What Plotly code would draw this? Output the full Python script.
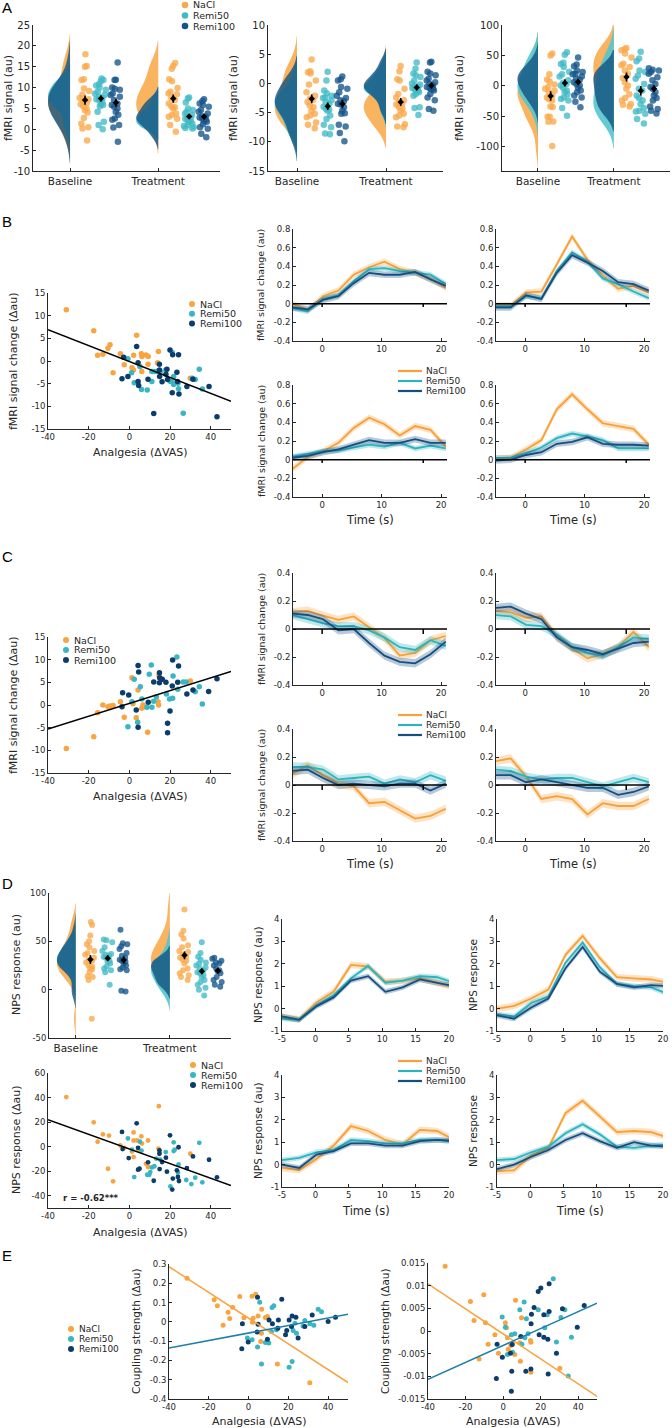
import numpy as np
import plotly.graph_objects as go

W, H = 672, 1428
FONT = "DejaVu Sans"
TXT = "#262626"

groups = ["NaCl", "Remi50", "Remi100"]
conditions = ["Baseline", "Treatment"]

# ---------------- Panel A : rainclouds (fMRI signal, au) ----------------
a1_base_nacl = [18.0, 15.2, 15.0, 12.0, 11.8, 9.8, 9.2, 8.3, 7.5, 7.2, 6.8, 6.3, 6.0, 5.5, 5.0, 4.6, 4.0, 2.7, 1.3, 0.5, 0.2, -2.7]
a1_base_r50 = [12.2, 11.8, 11.5, 10.8, 10.5, 10.0, 9.5, 9.0, 8.5, 8.2, 7.8, 7.5, 7.2, 7.0, 6.5, 6.0, 5.8, 5.5, 4.2, 1.8, 1.0, 0.0]
a1_base_r100 = [16.0, 11.9, 11.8, 10.0, 9.7, 9.5, 8.6, 8.2, 7.8, 7.0, 6.2, 5.8, 5.4, 5.0, 4.2, 3.5, 2.6, 2.3, 1.0, 0.4, -3.0]
a1_treat_nacl = [15.9, 15.2, 14.5, 12.0, 11.5, 9.9, 9.0, 8.6, 8.4, 7.5, 7.0, 6.2, 5.5, 5.3, 5.0, 3.8, 3.4, 3.0, 2.5, 1.0, -0.6]
a1_treat_r50 = [7.6, 7.4, 6.4, 5.0, 4.6, 4.2, 3.8, 3.4, 3.0, 2.8, 2.5, 2.2, 2.0, 1.8, 1.4, 1.0, 0.8, 0.5, 0.3, 0.2]
a1_treat_r100 = [7.2, 6.8, 6.2, 5.8, 5.4, 4.6, 4.2, 3.8, 3.1, 2.8, 2.6, 2.2, 1.8, 1.2, 0.5, 0.1, -1.1, -1.9, 3.0, 2.0]

a2_base_nacl = [4.1, 2.1, 1.9, 1.7, 0.5, -0.2, -1.5, -2.1, -2.6, -2.8, -3.2, -3.8, -4.1, -4.7, -5.2, -5.5, -5.8, -6.7, -7.1, -7.7]
a2_base_r50 = [2.0, 0.5, -1.2, -1.7, -2.1, -2.4, -2.9, -3.2, -3.5, -4.0, -4.4, -4.5, -4.7, -5.5, -6.1, -7.1, -7.5, -8.6, -8.7, -2.5]
a2_base_r100 = [1.2, 0.7, 0.5, -0.6, -0.9, -1.5, -2.1, -2.5, -2.9, -3.5, -3.6, -4.1, -4.7, -5.1, -5.2, -7.1, -7.4, -8.5, -9.9, -3.0]
a2_treat_nacl = [3.0, 2.1, 0.7, 0.5, -0.9, -1.8, -2.4, -2.9, -3.2, -3.5, -4.0, -4.7, -5.2, -5.5, -5.8, -7.0, -7.4, -7.5, -3.6, -4.3]
a2_treat_r50 = [3.6, 2.5, 1.7, 1.4, 1.1, 0.5, 0.0, -0.2, -0.5, -0.8, -1.2, -1.5, -1.8, -2.1, -4.1, -4.2, -5.4, -0.6, -1.0, -1.3]
a2_treat_r100 = [3.7, 3.6, 2.0, 1.7, 1.4, 0.8, 0.5, -0.1, -0.3, -0.6, -0.9, -1.2, -1.8, -2.4, -2.9, -4.4, -4.7, -0.8, -1.0, 0.2]

a3_base_nacl = [53, 50, 19, 10.5, 7, -2, -5, -10.5, -16, -19, -21.5, -24, -34, -35, -51, -51, -58.5, -59, -99, 2, -8]
a3_base_r50 = [55, 51, 38, 36, 31, 23, 19, 15.5, 9, 3, 0.5, -3, -7.7, -14, -19, -21.5, -24, -36.5, -49, 5, -10]
a3_base_r100 = [46.6, 35, 32, 25, 22.6, 19, 15.5, 10, 6, 0.5, -3, -7.7, -10.5, -16, -19, -26, -35.4, 12, 3, 20]
a3_treat_nacl = [62, 60, 58.6, 53, 46.4, 36.5, 33.7, 31, 25, 20, 13, 6, 0.5, -5, -14, -20, -24, -30, -31, -34]
a3_treat_r50 = [56, 44.8, 40.3, 25, 22.6, 17, 11.6, 3, -5, -7.7, -16, -20, -24, -30, -36.5, -41, -42, -46, -54.7, -62]
a3_treat_r100 = [29, 26.5, 25, 22.6, 20, 14, 9, 3, -2, -5, -10.5, -16, -20, -24, -34, -38, -41, -45.5]

# ---------------- Panel B : scatter (fMRI change vs analgesia) ----------------
b_nacl_x = [-31, -17.5, -15.6, -13, -10.5, -9.5, -8, -4.4, -2.5, 2.1, 1.3, 2.0, 3.6, 5.9, 6.2, 6.1, 8.2, 9.3, 9.2, 14.3, 13.9, 30]
b_nacl_y = [11.3, 6.7, 1.25, 1.5, 2.8, 3.6, -2.6, 1.6, -0.8, 1.25, -1.5, -2.0, 5.7, 1.6, 1.0, -2.3, 1.3, 1.0, -0.7, 2.1, -0.4, -3.8]
b_r50_x = [-0.7, 1.1, 2.4, 5.2, 6.0, 8.8, 11.1, 11.1, 12.3, 13.3, 15.2, 17.9, 20.2, 21.1, 21.8, 21.8, 23.9, 24.2, 26.5, 31, 32.4, 34.4, 35.9, 21]
b_r50_y = [0.5, -2.6, -4.8, -1.2, -6.3, -6.4, -4.5, -2.3, -2.3, -2.3, -2.3, -2.0, -4.5, 1.9, -3.4, -5.2, -4.9, -6.1, -11.5, -3.8, -4.1, -1.8, -6.2, -4.6]
b_r100_x = [-3.6, -2.8, -0.7, 3.6, 4.3, 4.3, 4.6, 9.2, 12, 14.8, 14.8, 14.9, 16.1, 18, 18.5, 18.8, 20, 21.3, 21.1, 23.4, 23.7, 24.2, 24.4, 28.3, 31.3, 39.2, 43.1]
b_r100_y = [-3.9, 0.8, -3.4, 3.2, -0.4, -4.5, -5.4, -4.0, -11.6, -0.7, -2.0, -3.4, -4.6, -2.9, -1.8, -4.1, 2.4, 1.4, -7.0, -2.5, -4.5, 1.4, -7.3, -5.6, -4.0, -5.6, -12.3]
b_fit = (-0.12, -0.1756)   # intercept, slope

# ---------------- time courses ----------------
t_bold = [-5.0, -2.42, 0.16, 2.74, 5.32, 7.9, 10.48, 13.06, 15.64, 18.22, 20.8]
stim_ticks = [0, 17]

b_tl_nacl = [0.00, -0.07, 0.08, 0.14, 0.31, 0.39, 0.45, 0.37, 0.33, 0.27, 0.17]
b_tl_r50 = [-0.05, -0.08, 0.05, 0.09, 0.24, 0.37, 0.38, 0.35, 0.33, 0.31, 0.21]
b_tl_r100 = [-0.04, -0.06, 0.04, 0.08, 0.22, 0.33, 0.31, 0.31, 0.34, 0.26, 0.19]
b_tr_nacl = [-0.02, -0.02, 0.12, 0.13, 0.42, 0.72, 0.47, 0.30, 0.16, 0.19, 0.12]
b_tr_r50 = [-0.03, -0.03, 0.08, 0.06, 0.35, 0.55, 0.45, 0.27, 0.21, 0.13, 0.06]
b_tr_r100 = [-0.04, -0.04, 0.09, 0.05, 0.33, 0.52, 0.44, 0.35, 0.23, 0.21, 0.14]
b_bl_nacl = [-0.10, 0.03, 0.09, 0.18, 0.34, 0.45, 0.38, 0.26, 0.36, 0.32, 0.14]
b_bl_r50 = [0.03, 0.06, 0.09, 0.10, 0.13, 0.16, 0.14, 0.18, 0.12, 0.15, 0.12]
b_bl_r100 = [0.02, 0.04, 0.08, 0.11, 0.16, 0.21, 0.18, 0.18, 0.22, 0.18, 0.18]
b_br_nacl = [0.01, 0.02, 0.11, 0.21, 0.54, 0.70, 0.54, 0.39, 0.36, 0.33, 0.16]
b_br_r50 = [0.02, 0.02, 0.07, 0.13, 0.23, 0.28, 0.25, 0.21, 0.12, 0.12, 0.12]
b_br_r100 = [-0.01, 0.00, 0.05, 0.08, 0.17, 0.19, 0.24, 0.17, 0.16, 0.16, 0.15]
b_sem = [0.035, 0.03, 0.035]

c_tl_nacl = [0.12, 0.13, 0.095, 0.065, 0.09, 0.01, -0.065, -0.19, -0.17, -0.08, -0.05]
c_tl_r50 = [0.10, 0.07, 0.04, 0.02, 0.02, -0.01, -0.06, -0.13, -0.15, -0.08, -0.12]
c_tl_r100 = [0.11, 0.10, 0.07, -0.01, 0.00, -0.10, -0.19, -0.235, -0.245, -0.18, -0.09]
c_tr_nacl = [0.13, 0.12, 0.08, 0.09, -0.05, -0.14, -0.21, -0.18, -0.13, -0.02, -0.13]
c_tr_r50 = [0.10, 0.09, 0.03, 0.02, -0.04, -0.13, -0.17, -0.19, -0.13, -0.06, -0.07]
c_tr_r100 = [0.15, 0.16, 0.11, 0.07, -0.06, -0.13, -0.15, -0.18, -0.14, -0.10, -0.09]
c_bl_nacl = [0.08, 0.14, 0.07, 0.01, -0.01, -0.13, -0.12, -0.18, -0.24, -0.22, -0.17]
c_bl_r50 = [0.13, 0.13, 0.11, 0.04, 0.05, 0.06, 0.01, 0.04, 0.02, 0.07, 0.03]
c_bl_r100 = [0.10, 0.11, 0.05, 0.00, 0.01, 0.00, -0.01, 0.01, 0.01, -0.04, 0.01]
c_br_nacl = [0.17, 0.19, 0.06, -0.10, -0.08, -0.10, -0.21, -0.13, -0.15, -0.15, -0.10]
c_br_r50 = [0.11, 0.10, 0.06, 0.04, 0.05, 0.05, 0.02, -0.01, 0.02, 0.05, 0.02]
c_br_r100 = [0.07, 0.07, 0.02, 0.04, 0.02, 0.00, -0.02, -0.02, -0.07, -0.05, -0.01]
c_sem = [0.03, 0.03, 0.03]

# ---------------- Panel C : scatter ----------------
c_nacl_x = [-31, -17.5, -15.6, -13, -10.5, -9.5, -8, -4.4, -2.5, 1.3, 1.8, 3.4, 4.3, 6.1, 6.7, 7.4, 9.0, 14.1, 14.4, 14.6, 30]
c_nacl_y = [-9.6, -7.0, -1.7, 0.0, -0.4, -0.2, -0.1, 0.7, -2.7, 6.0, 0.3, -2.8, 3.3, -0.7, 0.0, -0.4, -6.0, 0.7, 0.0, 6.5, 5.3]
c_r50_x = [-0.7, 1.3, 2.4, 4.1, 5.4, 6.2, 8.7, 9.8, 10.8, 11.1, 12.0, 13.3, 18.2, 19.8, 21.3, 21.5, 23.4, 23.8, 26.5, 28.0, 32.4, 34.4, 35.9]
c_r50_y = [-4.8, 0.7, 5.7, -3.8, 4.0, 1.3, -0.5, 6.8, 8.8, -0.5, 0.8, 1.8, 2.4, 1.3, 1.5, 6.4, 10.6, 3.5, 5.1, 5.1, 2.9, 4.0, 0.2]
c_r100_x = [-3.6, -3.3, -0.3, 3.4, 4.3, 4.6, 4.3, 9.3, 12.0, 14.8, 14.8, 14.9, 16.2, 18.0, 18.8, 18.8, 20.0, 21.3, 21.1, 23.8, 24.2, 28.3, 31.3, 39.0, 43.1]
c_r100_y = [-0.4, 2.7, 2.2, -1.1, 8.7, 7.3, -4.9, 0.6, 5.1, 7.1, 4.9, 6.0, 5.7, 5.0, -4.0, -6.1, -1.3, 9.9, 4.2, 5.0, 8.6, 2.4, 3.3, 3.0, 5.8]
c_fit = (0.344, 0.1411)

# ---------------- Panel D : NPS ----------------
d_base_nacl = [70, 67, 56, 50, 47, 44, 40, 38, 36, 33, 31, 30, 28, 25, 24, 22, 21, 18, 14, 13, 10, -30]
d_base_r50 = [52, 51, 49, 44, 40, 37, 36, 35, 34, 33, 30, 29, 27, 24, 22, 20, 18, 5]
d_base_r100 = [62, 48, 47, 45, 42, 38, 35, 33, 31, 30, 29, 27, 25, 23, 21, 20, -1, -2]
d_treat_nacl = [83, 61, 57, 53, 46, 44, 40, 39, 36, 34, 33, 31, 30, 27, 22, 20, 17, 15, 13, 10]
d_treat_r50 = [49, 38, 34, 31, 28, 27, 25, 23, 22, 20, 18, 17, 15, 13, 10, 8, 5, 2, 0, -6]
d_treat_r100 = [33, 32, 30, 28, 27, 25, 22, 20, 19, 17, 13, 10, 8, 5, 3]

d_tl_nacl = [-0.36, -0.48, 0.27, 0.76, 1.95, 1.88, 1.2, 1.24, 1.35, 1.16, 0.95]
d_tl_r50 = [-0.45, -0.5, 0.15, 0.6, 1.35, 1.9, 1.15, 1.25, 1.45, 1.4, 1.15]
d_tl_r100 = [-0.35, -0.5, 0.1, 0.5, 1.25, 1.45, 0.75, 0.95, 1.3, 1.15, 1.0]
d_tr_nacl = [0.0, 0.12, 0.45, 0.85, 2.4, 3.25, 2.25, 1.4, 1.35, 1.3, 1.15]
d_tr_r50 = [-0.25, -0.35, 0.25, 0.55, 2.05, 2.95, 1.85, 1.1, 1.0, 0.95, 0.65]
d_tr_r100 = [-0.3, -0.45, 0.05, 0.45, 1.8, 2.75, 1.65, 1.1, 0.95, 1.05, 1.0]
d_bl_nacl = [-0.15, -0.25, 0.25, 0.85, 1.72, 1.5, 1.1, 0.9, 1.55, 1.5, 1.1]
d_bl_r50 = [0.2, 0.3, 0.55, 0.65, 1.1, 1.05, 0.95, 0.95, 1.1, 1.1, 1.05]
d_bl_r100 = [0.0, -0.15, 0.45, 0.6, 0.95, 0.95, 0.85, 0.85, 1.05, 1.1, 1.05]
d_br_nacl = [-0.3, -0.25, 0.4, 0.75, 2.3, 2.85, 2.15, 1.45, 1.5, 1.45, 1.2]
d_br_r50 = [0.2, 0.25, 0.55, 0.8, 1.4, 1.8, 1.35, 0.8, 0.75, 0.85, 0.9]
d_br_r100 = [-0.2, 0.0, 0.35, 0.65, 1.1, 1.4, 1.05, 0.75, 1.0, 0.85, 0.8]
d_sem = [0.15, 0.12, 0.12]

d_nacl_x = [-31, -17.5, -15.6, -13, -10, -10.5, -8, -4.4, -2.5, 1.3, 2.1, 2.1, 2.1, 3.8, 4.3, 5.9, 6.2, 8.2, 9.2, 9.2, 14.5, 14.3, 14.9, 30]
d_nacl_y = [40.4, 19.8, 4.0, 10.0, 9.0, -18.0, -28.3, 1.0, -1.0, -4.0, 11.6, 5.0, -8.5, 5.0, -2.5, 8.4, 2.5, -14.0, -16.6, 5.0, 33.0, -1.6, -4.5, -5.8]
d_r50_x = [-0.7, 1.3, 2.4, 5.2, 6.0, 8.8, 9.8, 11.1, 12.3, 13.3, 15.2, 17.9, 20.2, 21.8, 21.8, 22.3, 23.9, 24.2, 28.0, 30.5, 32.4, 34.4, 35.9, 10.3]
d_r50_y = [6.7, -2.4, -24.8, 4.0, -3.3, -22.9, -22.9, -16.9, -16.0, -9.8, -10.6, -4.4, -32.4, 3.5, -3.6, -2.5, -21.2, -14.5, -27.2, -30.5, -25.3, 3.1, -29.1, -20.7]
d_r100_x = [-3.6, -3.3, -0.3, 3.6, 4.3, 4.3, 5.0, 9.2, 12.0, 14.8, 14.8, 14.9, 16.1, 18.0, 18.5, 20.0, 21.1, 21.4, 23.4, 23.9, 24.2, 24.4, 28.3, 31.3, 39.2, 43.1]
d_r100_y = [12.0, -2.0, -9.3, 19.0, -1.0, -18.8, -18.0, -12.8, -27.8, -3.0, -5.8, -18.3, -12.5, -9.0, -20.4, 9.2, -35.0, -26.0, -19.3, -24.7, -0.5, -28.0, -17.5, -8.0, -10.7, -25.0]
d_fit = (-1.83, -0.596)
d_r_text = "r = -0.62***"

# ---------------- Panel E : coupling strength ----------------
e1_nacl_x = [-30.9, -17.3, -15.7, -12.8, -10.3, -9.5, -8.0, -4.4, -2.3, 1.8, 2.3, 2.0, 3.6, 4.8, 6.5, 6.1, 6.6, 8.5, 9.5, 14.5, 30.8]
e1_nacl_y = [0.226, 0.114, 0.083, -0.017, 0.05, 0.017, 0.076, 0.131, 0.021, 0.133, 0.019, -0.002, 0.143, 0.031, -0.059, -0.102, 0.066, 0.022, 0.028, -0.219, -0.316]
e1_r50_x = [-0.6, 1.8, 4.5, 5.6, 6.5, 8.5, 10.2, 11.5, 11.8, 12.7, 14.0, 20.4, 21.9, 22.4, 23.3, 24.1, 27.4, 28.3, 30.8, 32.8, 35.0, 36.7]
e1_r50_y = [-0.084, -0.093, -0.131, 0.102, -0.219, -0.107, -0.11, -0.05, 0.074, 0.084, -0.041, -0.236, -0.205, -0.045, -0.007, -0.059, -0.021, 0.007, -0.01, -0.017, 0.066, 0.053]
e1_r100_x = [-3.4, -3.1, -0.2, 4.5, 4.3, 4.8, 9.5, 10.3, 12.0, 14.7, 15.0, 16.7, 18.6, 19.2, 20.4, 21.6, 21.9, 23.8, 24.9, 28.3, 32.0, 40.0, 43.7]
e1_r100_y = [-0.14, -0.01, -0.105, 0.128, -0.053, -0.012, -0.09, 0.01, -0.01, -0.033, 0.01, 0.117, -0.067, -0.045, 0.01, -0.024, 0.031, 0.024, -0.084, -0.024, 0.036, 0.002, 0.024]
e1_fit_nacl = (0.019, -0.00667)
e1_fit_remi = (-0.058, 0.00195)

e2_nacl_x = [-30.9, -17.4, -15.5, -12.8, -10.3, -9.4, -8.0, -4.4, -2.5, 1.2, 1.8, 2.3, 2.7, 4.1, 5.0, 6.2, 6.6, 8.9, 9.2, 9.8, 14.6, 14.8, 14.8, 30.2]
e2_nacl_y = [0.0143, 0.0065, 0.0023, -0.0062, 0.008, 0.0018, -0.0029, -0.0008, -0.0049, 0.0018, 0.0007, -0.0015, -0.004, -0.0032, -0.0028, -0.0052, 0.0068, -0.0026, -0.0067, 0.0029, -0.0021, -0.0091, -0.0025, -0.0082]
e2_r50_x = [-0.5, 1.2, 2.3, 4.4, 6.2, 5.0, 8.9, 10.0, 11.2, 11.6, 12.4, 13.3, 18.7, 22.2, 23.5, 26.7, 28.4, 30.8, 32.9, 36.4, 34.7]
e2_r50_y = [0.0031, 0.0008, -0.0052, -0.0008, -0.0006, -0.0047, 0.0047, -0.0029, 0.0064, -0.0015, 0.0027, -0.0006, 0.0047, 0.0007, 0.0036, 0.0115, -0.0024, 0.003, 0.0047, -0.0014, -0.0099]
e2_r100_x = [-3.2, -3.6, -0.4, 3.9, 4.8, 4.6, 4.4, 9.4, 12.1, 14.8, 14.9, 15.1, 16.5, 18.7, 19.2, 20.1, 21.7, 21.7, 23.8, 24.0, 24.5, 24.5, 28.4, 31.6, 39.5, 43.2]
e2_r100_y = [-0.0029, -0.0105, -0.0058, -0.0049, -0.003, -0.0089, -0.0133, -0.0012, -0.0089, -0.0084, 0.0016, 0.0037, 0.0052, 0.0087, -0.0008, 0.0095, 0.0036, -0.0014, -0.0018, -0.0095, 0.0104, 0.0043, -0.0049, 0.0049, 0.0008, 0.0056]
e2_fit_nacl = (-0.00064, -0.000276)
e2_fit_remi = (-0.0032, 0.000187)

# ---------------- tick definitions ----------------
vas_ticks = [-40, -20, 0, 20, 40]
a1_ticks = [-10, -5, 0, 5, 10, 15, 20, 25]
a2_ticks = [-15, -10, -5, 0, 5, 10]
a3_ticks = [-100, -50, 0, 50, 100]
bsc_ticks = [-15, -10, -5, 0, 5, 10, 15]
btc_yticks = [-0.4, -0.2, 0, 0.2, 0.4, 0.6, 0.8]
ctc_yticks = [-0.4, -0.2, 0, 0.2, 0.4]
tc_xticks = [0, 10, 20]
drain_ticks = [-50, 0, 50, 100]
dtc_xticks = [-5, 0, 5, 10, 15, 20]
dtc_yticks = [-1, 0, 1, 2, 3, 4]
dsc_ticks = [-40, -20, 0, 20, 40, 60]
e1_ticks = [-0.4, -0.3, -0.2, -0.1, 0, 0.1, 0.2, 0.3]
e2_ticks = [-0.015, -0.01, -0.005, 0, 0.005, 0.01, 0.015]

# ---------------- styles ----------------
dot_col = {"NaCl": "#F9A43F", "Remi50": "#3AB6C2", "Remi100": "#0C3C6C"}
rain_col = {"NaCl": "#FAA94A", "Remi50": "#40BAC5", "Remi100": "#14548A"}
vio_col = {"NaCl": "rgba(250,172,80,0.92)", "Remi50": "rgba(85,196,205,0.9)", "Remi100": "rgba(16,82,130,0.8)"}
line_col = {"NaCl": "#F8A037", "Remi50": "#2BB3BE", "Remi100": "#154E80"}
band_col = {"NaCl": "rgba(248,160,55,0.3)", "Remi50": "rgba(43,179,190,0.3)", "Remi100": "rgba(21,78,128,0.3)"}
fit_col = {"NaCl": "#F9A43F", "Remi": "#1E7FAA"}

fig = go.Figure()
layout = {}
shapes = []
annotations = []


def fmt(v):
    return f"{v:g}"


def axn(i):
    return ("x" if i == 1 else f"x{i}"), ("y" if i == 1 else f"y{i}")


def add_axes(i, xpx, ypx, xrange, yrange, xticks, yticks, xticktext=None, fs=8.5, xfs=None):
    xn, yn = axn(i)
    xkey = "xaxis" if i == 1 else f"xaxis{i}"
    ykey = "yaxis" if i == 1 else f"yaxis{i}"

    def base(size):
        return dict(showline=True, linecolor=TXT, linewidth=1, ticks="inside", ticklen=3,
                    tickwidth=1, tickcolor=TXT, showgrid=False, zeroline=False, automargin=False,
                    tickfont=dict(family=FONT, size=size, color=TXT), fixedrange=True)

    layout[xkey] = dict(base(xfs or fs), domain=[xpx[0] / W, xpx[1] / W], anchor=yn,
                        range=xrange, tickvals=xticks,
                        ticktext=xticktext if xticktext else [fmt(v) for v in xticks])
    layout[ykey] = dict(base(fs), domain=[1 - ypx[1] / H, 1 - ypx[0] / H], anchor=xn,
                        range=yrange, tickvals=yticks, ticktext=[fmt(v) for v in yticks])
    return xn, yn


def text(s, x, y, size, angle=0, xanchor="center", bold=False):
    annotations.append(dict(text=f"<b>{s}</b>" if bold else s, x=x / W, y=1 - y / H,
                            xref="paper", yref="paper", showarrow=False, textangle=angle,
                            xanchor=xanchor, yanchor="middle",
                            font=dict(family=FONT, size=size, color=TXT)))


def legend_markers(x, y0, dy, r, fs, colors):
    for k, g in enumerate(groups):
        cy = y0 + k * dy
        shapes.append(dict(type="circle", xref="paper", yref="paper",
                           x0=(x - r) / W, x1=(x + r) / W, y0=1 - (cy + r) / H, y1=1 - (cy - r) / H,
                           fillcolor=colors[g], line=dict(width=0)))
        text(g, x + r + 3, cy, fs, xanchor="left")


def legend_lines(x0, x1, y0, dy, fs):
    for k, g in enumerate(groups):
        cy = y0 + k * dy
        shapes.append(dict(type="line", xref="paper", yref="paper", x0=x0 / W, x1=x1 / W,
                           y0=1 - cy / H, y1=1 - cy / H, line=dict(color=line_col[g], width=2.2)))
        text(g, x1 + 2, cy, fs, xanchor="left")


def raincloud(i, data, vwidth, offsets, bwidth, msize):
    xn, yn = axn(i)
    for ci, cond in enumerate(conditions):
        pos = ci + 1
        for g in groups:
            vals = data[cond][g]
            fig.add_trace(go.Violin(x=[pos] * len(vals), y=vals, side="negative", width=vwidth,
                                    points=False, line=dict(width=0), fillcolor=vio_col[g],
                                    spanmode="soft", scalemode="width", hoverinfo="skip",
                                    showlegend=False, xaxis=xn, yaxis=yn))
    for ci, cond in enumerate(conditions):
        pos = ci + 1
        for g, off in zip(groups, offsets):
            vals = data[cond][g]
            fig.add_trace(go.Box(x=[pos + off] * len(vals), y=vals, boxpoints="all", jitter=1,
                                 pointpos=0, width=bwidth, fillcolor="rgba(0,0,0,0)",
                                 line=dict(width=0, color="rgba(0,0,0,0)"), whiskerwidth=0,
                                 marker=dict(color=rain_col[g], size=msize, opacity=0.78,
                                             line=dict(width=0)),
                                 hoverinfo="skip", showlegend=False, xaxis=xn, yaxis=yn))
        for g, off in zip(groups, offsets):
            arr = np.array(data[cond][g], dtype=float)
            m = arr.mean()
            se = arr.std(ddof=1) / np.sqrt(len(arr))
            fig.add_trace(go.Scatter(x=[pos + off], y=[m], mode="markers",
                                     marker=dict(color="black", size=5, symbol="diamond"),
                                     error_y=dict(type="data", array=[se], thickness=1.6, width=0,
                                                  color="black"),
                                     hoverinfo="skip", showlegend=False, xaxis=xn, yaxis=yn))


def timecourse(i, t, series, sems, zero_line):
    xn, yn = axn(i)
    tt = list(t)
    for g, y, s in zip(groups, series, sems):
        y = np.array(y, dtype=float)
        up = y + s
        lo = y - s
        fig.add_trace(go.Scatter(x=tt + tt[::-1], y=list(up) + list(lo[::-1]), fill="toself",
                                 fillcolor=band_col[g], line=dict(width=0), mode="lines",
                                 hoverinfo="skip", showlegend=False, xaxis=xn, yaxis=yn))
        fig.add_trace(go.Scatter(x=tt, y=list(y), mode="lines",
                                 line=dict(color=line_col[g], width=1.8),
                                 hoverinfo="skip", showlegend=False, xaxis=xn, yaxis=yn))
    if zero_line:
        shapes.append(dict(type="line", xref=f"{xn} domain", yref=yn, x0=0, x1=1, y0=0, y1=0,
                           line=dict(color="black", width=1.5)))
        for s in stim_ticks:
            shapes.append(dict(type="line", xref=xn, yref=yn, x0=s, x1=s, y0=0,
                               y1=-0.035, line=dict(color="black", width=1.5)))


def scatter_panel(i, xs, ys, msize, fits):
    xn, yn = axn(i)
    for g, x, y in zip(groups, xs, ys):
        fig.add_trace(go.Scatter(x=x, y=y, mode="markers",
                                 marker=dict(color=dot_col[g], size=msize, line=dict(width=0)),
                                 hoverinfo="skip", showlegend=False, xaxis=xn, yaxis=yn))
    for (b0, b1), col in fits:
        xx = np.array([-40.0, 50.0])
        fig.add_trace(go.Scatter(x=list(xx), y=list(b0 + b1 * xx), mode="lines",
                                 line=dict(color=col, width=1.5), hoverinfo="skip",
                                 showlegend=False, xaxis=xn, yaxis=yn))


# ================= Panel A =================
A_data = [
    {"Baseline": {"NaCl": a1_base_nacl, "Remi50": a1_base_r50, "Remi100": a1_base_r100},
     "Treatment": {"NaCl": a1_treat_nacl, "Remi50": a1_treat_r50, "Remi100": a1_treat_r100}},
    {"Baseline": {"NaCl": a2_base_nacl, "Remi50": a2_base_r50, "Remi100": a2_base_r100},
     "Treatment": {"NaCl": a2_treat_nacl, "Remi50": a2_treat_r50, "Remi100": a2_treat_r100}},
    {"Baseline": {"NaCl": a3_base_nacl, "Remi50": a3_base_r50, "Remi100": a3_base_r100},
     "Treatment": {"NaCl": a3_treat_nacl, "Remi50": a3_treat_r50, "Remi100": a3_treat_r100}},
]
add_axes(1, (33, 220), (25, 171), [0.58, 2.7], [-10, 25], [1, 2], a1_ticks, conditions, fs=10, xfs=10.5)
add_axes(2, (268, 443), (25, 171), [0.674, 2.64], [-15, 10], [1, 2], a2_ticks, conditions, fs=10, xfs=10.5)
add_axes(3, (502, 670), (25, 171), [0.526, 2.74], [-140, 100], [1, 2], a3_ticks, conditions, fs=10, xfs=10.5)
raincloud(1, A_data[0], 0.5, [0.17, 0.35, 0.52], 0.14, 6.5)
raincloud(2, A_data[1], 0.5, [0.165, 0.345, 0.51], 0.14, 6.5)
raincloud(3, A_data[2], 0.54, [0.167, 0.355, 0.53], 0.16, 6.5)
text("fMRI signal (au)", 9, 98, 11, -90)
text("fMRI signal (au)", 234, 98, 11, -90)
text("fMRI signal (au)", 460, 98, 11, -90)
legend_markers(185, 5, 10.5, 3.3, 9.5, rain_col)

# ================= Panel B =================
add_axes(4, (48, 231), (293, 429), [-40, 50], [-15, 15], vas_ticks, bsc_ticks)
scatter_panel(4, [b_nacl_x, b_r50_x, b_r100_x], [b_nacl_y, b_r50_y, b_r100_y], 5.5, [(b_fit, "black")])
text("fMRI signal change (\u0394au)", 13, 361, 11, -90)
text("Analgesia (\u0394VAS)", 140, 452, 11)
legend_markers(192, 304, 9.7, 3, 9.5, dot_col)

tc_B = [(5, (293, 447), (229, 341), [b_tl_nacl, b_tl_r50, b_tl_r100]),
        (6, (496, 650), (229, 341), [b_tr_nacl, b_tr_r50, b_tr_r100]),
        (7, (293, 447), (385, 497), [b_bl_nacl, b_bl_r50, b_bl_r100]),
        (8, (496, 650), (385, 497), [b_br_nacl, b_br_r50, b_br_r100])]
for i, xp, yp, ser in tc_B:
    add_axes(i, xp, yp, [-4.9, 21], [-0.4, 0.8], tc_xticks, btc_yticks)
    timecourse(i, t_bold, ser, b_sem, True)
text("fMRI signal change (au)", 261, 285, 9.5, -90)
text("fMRI signal change (au)", 261, 441, 9.5, -90)
text("Time (s)", 370, 520, 11.5)
text("Time (s)", 573, 520, 11.5)
legend_lines(398, 422, 371, 10, 9)

# ================= Panel C =================
add_axes(9, (48, 231), (637, 773), [-40, 50], [-15, 15], vas_ticks, bsc_ticks)
scatter_panel(9, [c_nacl_x, c_r50_x, c_r100_x], [c_nacl_y, c_r50_y, c_r100_y], 5.5, [(c_fit, "black")])
text("fMRI signal change (\u0394au)", 13, 705, 11, -90)
text("Analgesia (\u0394VAS)", 140, 796, 11)
legend_markers(66, 640, 10, 3, 9.5, dot_col)

tc_C = [(10, (293, 447), (573, 685), [c_tl_nacl, c_tl_r50, c_tl_r100]),
        (11, (496, 650), (573, 685), [c_tr_nacl, c_tr_r50, c_tr_r100]),
        (12, (293, 447), (729, 841), [c_bl_nacl, c_bl_r50, c_bl_r100]),
        (13, (496, 650), (729, 841), [c_br_nacl, c_br_r50, c_br_r100])]
for i, xp, yp, ser in tc_C:
    add_axes(i, xp, yp, [-4.9, 21], [-0.4, 0.4], tc_xticks, ctc_yticks)
    timecourse(i, t_bold, ser, c_sem, True)
text("fMRI signal change (au)", 261, 629, 9.5, -90)
text("fMRI signal change (au)", 261, 785, 9.5, -90)
text("Time (s)", 370, 864, 11.5)
text("Time (s)", 573, 864, 11.5)
legend_lines(398, 422, 715, 10, 9)

# ================= Panel D =================
D_data = {"Baseline": {"NaCl": d_base_nacl, "Remi50": d_base_r50, "Remi100": d_base_r100},
          "Treatment": {"NaCl": d_treat_nacl, "Remi50": d_treat_r50, "Remi100": d_treat_r100}}
add_axes(14, (49, 231), (893, 1038), [0.716, 2.65], [-50, 100], [1, 2], drain_ticks, conditions, fs=8.5, xfs=10.5)
raincloud(14, D_data, 0.4, [0.156, 0.34, 0.51], 0.13, 6)
text("NPS response (au)", 16, 965, 11, -90)

tc_D = [(15, (282, 449), (919, 1031), [d_tl_nacl, d_tl_r50, d_tl_r100]),
        (16, (497, 663), (919, 1031), [d_tr_nacl, d_tr_r50, d_tr_r100]),
        (17, (282, 449), (1075, 1187), [d_bl_nacl, d_bl_r50, d_bl_r100]),
        (18, (497, 663), (1075, 1187), [d_br_nacl, d_br_r50, d_br_r100])]
for i, xp, yp, ser in tc_D:
    add_axes(i, xp, yp, [-5, 20], [-1, 4], dtc_xticks, dtc_yticks)
    timecourse(i, t_bold, ser, d_sem, False)
text("NPS response (au)", 258, 975, 10.5, -90)
text("NPS response (au)", 258, 1131, 10.5, -90)
text("NPS response", 473, 975, 10.5, -90)
text("NPS response", 473, 1131, 10.5, -90)
text("Time (s)", 366, 1211, 11.5)
text("Time (s)", 580, 1211, 11.5)
legend_lines(398, 422, 1061, 10, 9)

add_axes(19, (48, 231), (1073, 1208), [-40, 50], [-50, 60], vas_ticks, dsc_ticks)
scatter_panel(19, [d_nacl_x, d_r50_x, d_r100_x], [d_nacl_y, d_r50_y, d_r100_y], 4.8, [(d_fit, "black")])
text("NPS response (\u0394au)", 16, 1140, 11, -90)
text("Analgesia (\u0394VAS)", 140, 1232, 11)
text(d_r_text, 61, 1198, 8.5, xanchor="left", bold=True)
legend_markers(193, 1065, 10, 3, 9.5, dot_col)

# ================= Panel E =================
add_axes(20, (169, 348), (1264, 1399), [-40, 50], [-0.4, 0.3], vas_ticks, e1_ticks)
scatter_panel(20, [e1_nacl_x, e1_r50_x, e1_r100_x], [e1_nacl_y, e1_r50_y, e1_r100_y], 5,
              [(e1_fit_nacl, fit_col["NaCl"]), (e1_fit_remi, fit_col["Remi"])])
add_axes(21, (428, 597), (1263, 1399), [-40, 50], [-0.015, 0.015], vas_ticks, e2_ticks)
scatter_panel(21, [e2_nacl_x, e2_r50_x, e2_r100_x], [e2_nacl_y, e2_r50_y, e2_r100_y], 5,
              [(e2_fit_nacl, fit_col["NaCl"]), (e2_fit_remi, fit_col["Remi"])])
text("Coupling strength (\u0394au)", 136, 1331, 10.5, -90)
text("Coupling strength (\u0394au)", 385, 1331, 10.5, -90)
text("Analgesia (\u0394VAS)", 259, 1421, 11)
text("Analgesia (\u0394VAS)", 513, 1421, 11)
legend_markers(71, 1329, 10, 3, 9, dot_col)

# ================= panel letters =================
for letter, y in zip(["A", "B", "C", "D", "E"], [8, 221, 557, 883, 1255]):
    annotations.append(dict(text=letter, x=0, y=1 - y / H, xref="paper", yref="paper",
                            showarrow=False, xanchor="left", yanchor="middle",
                            font=dict(family="Liberation Sans", size=15, color="black")))

fig.update_layout(
    template="none",
    width=W, height=H, margin=dict(l=0, r=0, t=0, b=0, pad=0),
    paper_bgcolor="white", plot_bgcolor="white", showlegend=False,
    violinmode="overlay", boxmode="overlay",
    shapes=shapes, annotations=annotations,
    **layout,
)
fig.write_html("out.html", config={"displayModeBar": False},
               post_script="document.body.style.margin='0px';document.body.style.overflow='hidden';")
